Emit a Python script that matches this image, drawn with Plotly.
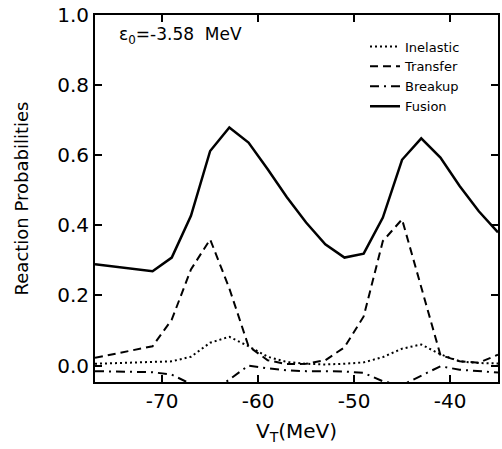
import plotly.graph_objects as go

# V_T values (MeV)
vt = [-77, -71, -69, -67, -65, -63, -61, -59, -57, -55, -53, -51, -49, -47, -45, -43, -41, -39, -37, -35]

inelastic = [0.005, 0.009, 0.012, 0.025, 0.065, 0.082, 0.055, 0.025, 0.010, 0.005,
             0.003, 0.005, 0.009, 0.024, 0.048, 0.060, 0.032, 0.012, 0.007, 0.006]
transfer = [0.022, 0.055, 0.131, 0.274, 0.360, 0.220, 0.055, 0.015, 0.004, 0.005,
            0.015, 0.052, 0.140, 0.355, 0.417, 0.220, 0.030, 0.012, 0.008, 0.031]
breakup = [-0.016, -0.019, -0.026, -0.052, -0.080, -0.040, 0.000, -0.008, -0.014, -0.016,
           -0.017, -0.017, -0.021, -0.045, -0.056, -0.029, -0.002, -0.012, -0.016, -0.020]
fusion = [0.289, 0.269, 0.308, 0.427, 0.612, 0.679, 0.636, 0.560, 0.480, 0.408,
          0.346, 0.308, 0.319, 0.422, 0.587, 0.648, 0.593, 0.512, 0.440, 0.380]

x_ticks = [-70, -60, -50, -40]
x_labels = ["-70", "-60", "-50", "-40"]
y_ticks = [0.0, 0.2, 0.4, 0.6, 0.8, 1.0]
y_labels = ["0.0", "0.2", "0.4", "0.6", "0.8", "1.0"]

FONT = "DejaVu Sans"

fig = go.Figure()
fig.add_trace(go.Scatter(x=vt, y=inelastic, mode="lines", name="Inelastic",
                         line=dict(color="black", width=2, dash="2px,3px")))
fig.add_trace(go.Scatter(x=vt, y=transfer, mode="lines", name="Transfer",
                         line=dict(color="black", width=2, dash="8px,5px")))
fig.add_trace(go.Scatter(x=vt, y=breakup, mode="lines", name="Breakup",
                         line=dict(color="black", width=2, dash="9px,5px,2px,5px")))
fig.add_trace(go.Scatter(x=vt, y=fusion, mode="lines", name="Fusion",
                         line=dict(color="black", width=2.5)))

axis_common = dict(showline=True, linecolor="black", linewidth=2, mirror="ticks",
                   ticks="inside", ticklen=7, tickwidth=2, tickcolor="black",
                   showgrid=False, zeroline=False, automargin=False,
                   ticklabeloverflow="allow",
                   tickfont=dict(family=FONT, size=20, color="black"))

fig.update_xaxes(range=[-77, -35], tickvals=x_ticks, ticktext=x_labels,
                 title=dict(text="V<sub>T</sub>(MeV)", font=dict(family=FONT, size=20, color="black"),
                            standoff=12),
                 **axis_common)
fig.update_yaxes(range=[-0.047, 1.0], tickvals=y_ticks, ticktext=y_labels,
                 title=dict(text="Reaction Probabilities", font=dict(family=FONT, size=18, color="black"),
                            standoff=24),
                 **axis_common)

fig.add_annotation(x=0.055, y=0.945, xref="paper", yref="paper", xanchor="left", yanchor="middle",
                   text="ε<sub>0</sub>=-3.58\u00a0 MeV", showarrow=False,
                   font=dict(family=FONT, size=17, color="black"))

fig.update_layout(
    width=502, height=449,
    margin=dict(l=95, r=4, t=15, b=67),
    plot_bgcolor="white", paper_bgcolor="white",
    showlegend=True,
    legend=dict(x=0.67, y=0.955, xanchor="left", yanchor="top",
                bgcolor="rgba(0,0,0,0)", font=dict(family=FONT, size=13, color="black"),
                itemwidth=30, tracegroupgap=0),
)

# remove the browser's default 8px body margin so the figure fills the window exactly
fig.write_html("out.html",
               config={"displayModeBar": False},
               post_script="document.body.style.margin='0';document.body.style.overflow='hidden';")
